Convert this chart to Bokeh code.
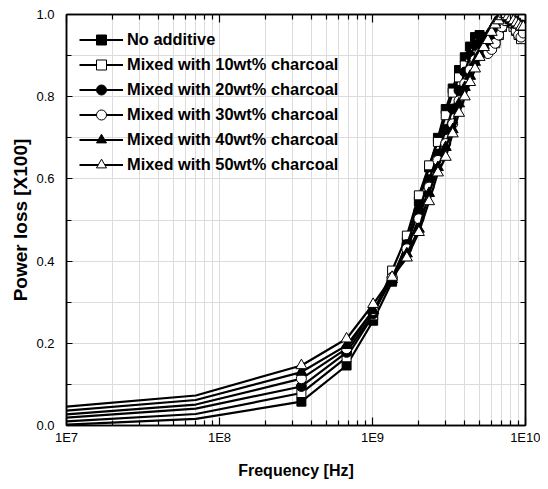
from bokeh.plotting import figure
from bokeh.models import (LogAxis, LinearAxis, FixedTicker, CustomJSTickFormatter,
                          PrintfTickFormatter, Range1d, Legend, LegendItem)
from bokeh.embed import file_html
from bokeh.resources import INLINE

# ---------------- data ----------------
freq = [1.0e7, 7.0e7, 3.43e8, 6.77e8, 1.01e9, 1.343e9, 1.677e9, 2.01e9, 2.343e9,
        2.677e9, 3.01e9, 3.343e9, 3.677e9, 4.01e9, 4.343e9, 4.677e9, 5.01e9,
        5.343e9, 5.677e9, 6.01e9, 6.343e9, 6.677e9, 7.01e9, 7.343e9, 7.677e9,
        8.01e9, 8.343e9, 8.677e9, 9.01e9, 9.343e9, 9.677e9]

no_additive = [0.002, 0.016, 0.058, 0.146, 0.255, 0.350, 0.446, 0.545, 0.628,
               0.700, 0.770, 0.820, 0.865, 0.896, 0.922, 0.945, 0.950, 0.945,
               0.940, 0.930, 0.935, 0.950, 0.970, 0.980, 0.990, 0.990, 0.985,
               0.980, 0.975, 0.970, 0.975]
wt10 = [0.010, 0.028, 0.079, 0.166, 0.268, 0.377, 0.462, 0.560, 0.633, 0.690,
        0.755, 0.810, 0.847, 0.876, 0.896, 0.915, 0.930, 0.930, 0.925, 0.920,
        0.930, 0.950, 0.970, 0.990, 1.000, 0.990, 0.970, 0.960, 0.950, 0.940,
        0.960]
wt20 = [0.019, 0.041, 0.095, 0.178, 0.272, 0.360, 0.440, 0.523, 0.598, 0.660,
        0.720, 0.770, 0.815, 0.860, 0.900, 0.925, 0.930, 0.929, 0.925, 0.930,
        0.940, 0.960, 0.975, 0.985, 0.990, 0.985, 0.980, 0.975, 0.970, 0.965,
        0.970]
wt30 = [0.027, 0.051, 0.114, 0.187, 0.280, 0.360, 0.430, 0.503, 0.580, 0.645,
        0.686, 0.734, 0.790, 0.832, 0.865, 0.890, 0.905, 0.908, 0.905, 0.915,
        0.930, 0.950, 0.970, 0.985, 0.990, 0.985, 0.975, 0.960, 0.950, 0.945,
        0.955]
wt40 = [0.036, 0.062, 0.130, 0.195, 0.280, 0.355, 0.418, 0.478, 0.565, 0.628,
        0.677, 0.720, 0.783, 0.823, 0.850, 0.884, 0.905, 0.925, 0.950, 0.965,
        0.980, 0.990, 1.000, 0.995, 0.990, 0.985, 0.980, 0.975, 0.975, 0.970,
        0.970]
wt50 = [0.046, 0.073, 0.146, 0.211, 0.295, 0.361, 0.408, 0.470, 0.545, 0.615,
        0.653, 0.710, 0.760, 0.800, 0.835, 0.868, 0.896, 0.920, 0.937, 0.957,
        0.975, 0.985, 0.995, 1.000, 0.995, 0.990, 0.985, 0.980, 0.975, 0.970,
        0.970]

labels = ["No additive", "Mixed with 10wt% charcoal", "Mixed with 20wt% charcoal",
          "Mixed with 30wt% charcoal", "Mixed with 40wt% charcoal",
          "Mixed with 50wt% charcoal"]
values = [no_additive, wt10, wt20, wt30, wt40, wt50]
markers = ["square", "square", "circle", "circle", "triangle", "triangle"]
fills = ["black", "white", "black", "white", "black", "white"]
sizes = [9, 9, 10, 10, 11, 11]

x_major = [1e7, 1e8, 1e9, 1e10]
x_minor = [k * 10 ** d for d in (7, 8, 9) for k in range(2, 10)]
y_major = [0.0, 0.2, 0.4, 0.6, 0.8, 1.0]
y_minor = [0.1, 0.3, 0.5, 0.7, 0.9]

# ---------------- figure ----------------
p = figure(width=540, height=481, x_axis_type="log",
           x_range=Range1d(1e7, 1e10), y_range=Range1d(0, 1),
           output_backend="svg", toolbar_location=None,
           min_border_left=66, min_border_right=15, min_border_top=14,
           min_border_bottom=56, background_fill_color="white",
           border_fill_color="white")
p.outline_line_color = "black"
p.outline_line_width = 1.5

xt = FixedTicker(ticks=x_major, minor_ticks=x_minor)
yt = FixedTicker(ticks=y_major, minor_ticks=y_minor)

grid_col = "#dcdcdc"
for g in (p.xgrid, p.ygrid):
    g.grid_line_color = grid_col
    g.minor_grid_line_color = grid_col
    g.grid_line_width = 1
    g.minor_grid_line_width = 1

def style_axis(ax, ticker, major_in, minor_in):
    ax.ticker = ticker
    ax.major_tick_in = major_in
    ax.major_tick_out = 0
    ax.minor_tick_in = minor_in
    ax.minor_tick_out = 0
    ax.axis_line_color = "black"
    ax.axis_line_width = 1.5
    ax.major_tick_line_color = "black"
    ax.minor_tick_line_color = "black"
    ax.major_tick_line_width = 1.2
    ax.minor_tick_line_width = 1.2

xa = p.xaxis[0]
style_axis(xa, xt, 8, 5)
xa.formatter = CustomJSTickFormatter(code="return '1E' + Math.round(Math.log10(tick));")
xa.major_label_text_font = "Liberation Sans"
xa.major_label_text_font_size = "13px"
xa.major_label_text_color = "black"
xa.major_label_standoff = 4
xa.axis_label = "Frequency [Hz]"
xa.axis_label_text_font = "Liberation Sans"
xa.axis_label_text_font_style = "bold"
xa.axis_label_text_font_size = "16px"
xa.axis_label_text_color = "black"
xa.axis_label_standoff = 14

ya = p.yaxis[0]
style_axis(ya, yt, 6, 5)
ya.formatter = PrintfTickFormatter(format="%.1f")
ya.major_label_text_font = "Liberation Sans"
ya.major_label_text_font_size = "13px"
ya.major_label_text_color = "black"
ya.major_label_standoff = 12
ya.axis_label = "Power loss [X100]"
ya.axis_label_text_font = "Liberation Sans"
ya.axis_label_text_font_style = "bold"
ya.axis_label_text_font_size = "19px"
ya.axis_label_text_color = "black"
ya.axis_label_standoff = 2

empty = CustomJSTickFormatter(code="return '';")
top = LogAxis()
style_axis(top, xt, 8, 5)
top.formatter = empty
top.major_label_text_font_size = "0px"
top.major_label_standoff = 0
p.add_layout(top, "above")

right = LinearAxis()
style_axis(right, yt, 6, 5)
right.formatter = empty
right.major_label_text_font_size = "0px"
right.major_label_standoff = 0
p.add_layout(right, "right")

# ---------------- series ----------------
items = []
for lab, vals, mk, fc, sz in zip(labels, values, markers, fills, sizes):
    lr = p.line(freq, vals, line_color="black", line_width=2.2)
    sr = p.scatter(freq[2:], vals[2:], marker=mk, size=sz, fill_color=fc,
                   line_color="black", line_width=1)
    items.append(LegendItem(label=lab, renderers=[lr, sr]))

legend = Legend(items=items, location="top_left")
legend.margin = 13
legend.padding = 6
legend.spacing = 0
legend.glyph_width = 44
legend.glyph_height = 25
legend.label_height = 25
legend.label_standoff = 4
legend.label_text_font = "Liberation Sans"
legend.label_text_font_style = "bold"
legend.label_text_font_size = "16.4px"
legend.label_text_color = "black"
legend.border_line_color = None
legend.background_fill_alpha = 0
p.add_layout(legend)

open("out.html", "w").write(file_html(p, INLINE))
